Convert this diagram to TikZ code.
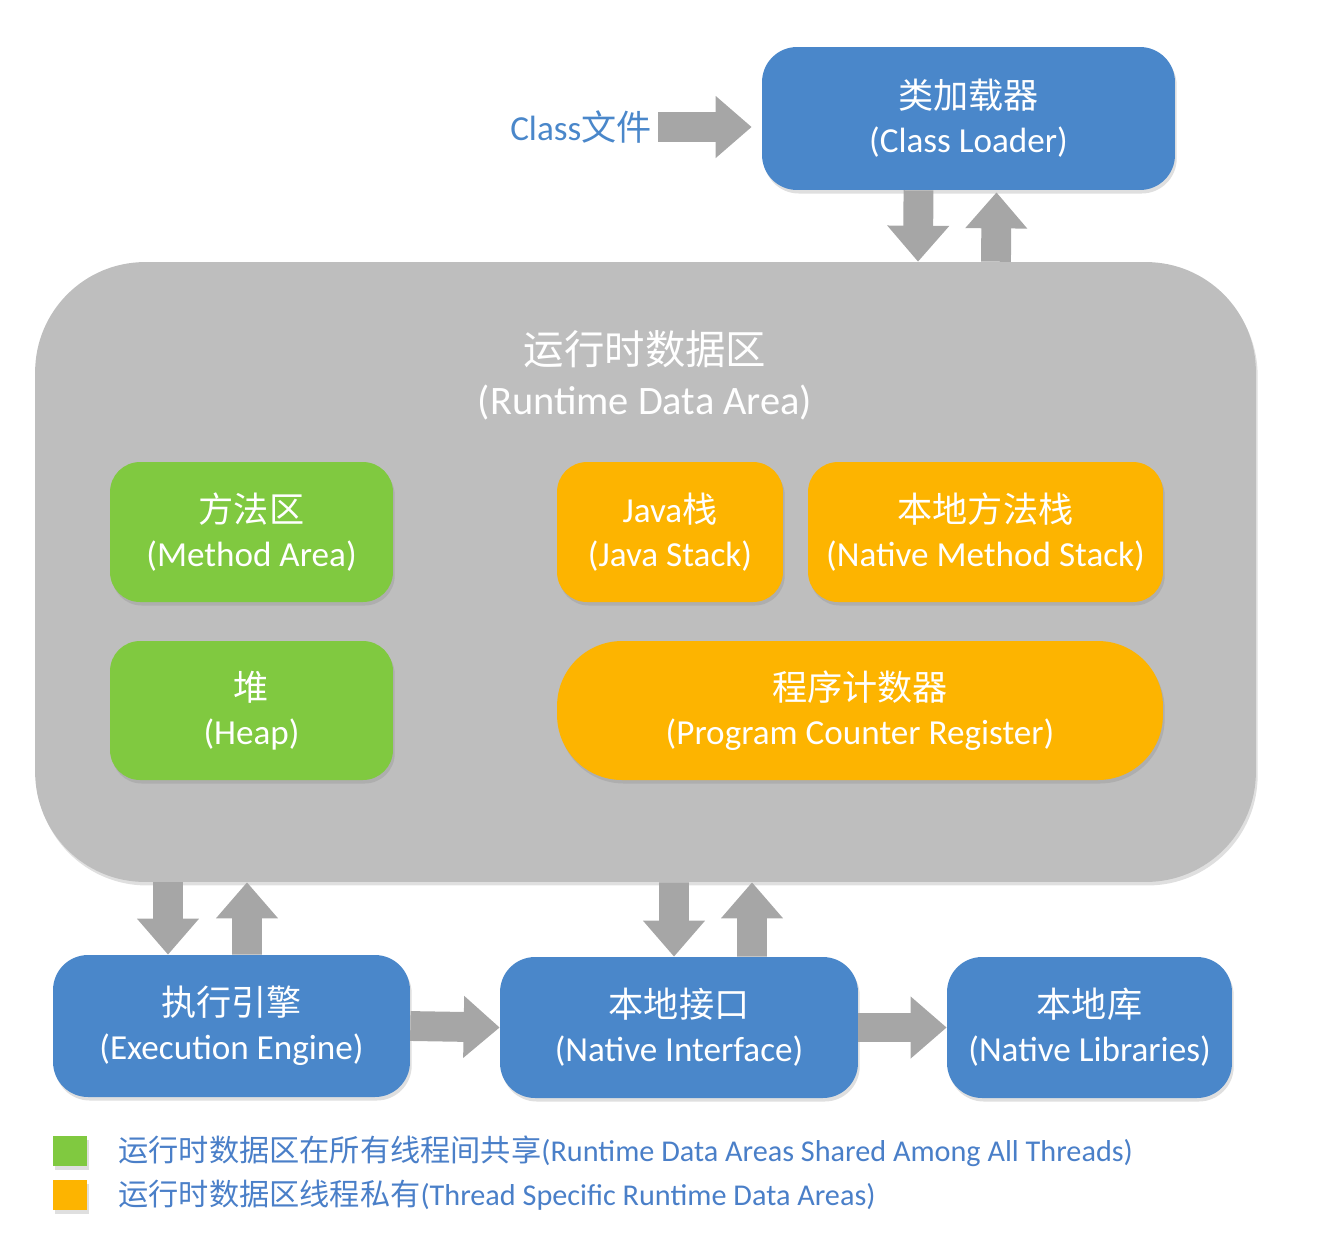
\documentclass[tikz,border=0pt]{standalone}
\usepackage{fontspec}
\setmainfont{Carlito}
\newfontfamily\cjk{Noto Sans CJK SC}
\usetikzlibrary{arrows.meta,shadows,calc}
\definecolor{boxblue}{HTML}{4A87CA}
\definecolor{boxgreen}{HTML}{80C940}
\definecolor{boxorange}{HTML}{FDB400}
\definecolor{areagray}{HTML}{BEBEBE}
\definecolor{arrowgray}{HTML}{A6A6A6}
\definecolor{legendblue}{HTML}{4A7FC8}
\begin{document}
\begin{tikzpicture}[x=0.02cm,y=-0.02cm,
  softshadow/.style={drop shadow={opacity=0.25,shadow xshift=1pt,shadow yshift=-2pt}},
  box/.style={rounded corners=0.7cm,text=white,align=center,inner sep=0pt,
    font=\fontsize{20}{25}\selectfont,softshadow},
  bluebox/.style={box,fill=boxblue},
  greenbox/.style={box,fill=boxgreen,rounded corners=0.6cm},
  orangebox/.style={box,fill=boxorange,rounded corners=0.6cm},
  garrow/.style={draw=arrowgray,line width=17pt,-{Triangle[width=34pt,length=20.5pt]}},
  legendsq/.style={minimum width=0.68cm,minimum height=0.6cm,inner sep=0pt,softshadow},
  legendtext/.style={anchor=west,text=legendblue,inner sep=0pt,font=\fontsize{17.2}{20}\selectfont}
]
\useasboundingbox (0,0) rectangle (1338,1242);

% runtime data area
\node[fill=areagray,rounded corners=2.2cm,minimum width=24.42cm,minimum height=12.4cm,softshadow] (rda) at (645.5,572) {};
\node[text=white,align=center,font=\fontsize{23}{28.5}\selectfont] (rdatitle) at (645,375) {{\cjk 运行时数据区}\\(Runtime Data Area)};

% class loader
\node[bluebox,minimum width=8.26cm,minimum height=2.86cm] (loader) at (968.5,118.5) {{\cjk 类加载器}\\(Class Loader)};
\node[text=boxblue,font=\fontsize{20}{24}\selectfont,inner sep=0pt,anchor=east] (classfile) at (652,127) {Class{\cjk 文件}};

% inner areas
\node[greenbox,minimum width=5.66cm,minimum height=2.8cm] (method) at (251.5,532) {{\cjk 方法区}\\(Method Area)};
\node[greenbox,minimum width=5.66cm,minimum height=2.78cm] (heap) at (251.5,710.5) {{\cjk 堆}\\(Heap)};
\node[orangebox,minimum width=4.52cm,minimum height=2.8cm] (jstack) at (670,532) {Java{\cjk 栈}\\(Java Stack)};
\node[orangebox,minimum width=7.1cm,minimum height=2.8cm] (nstack) at (985.5,532) {{\cjk 本地方法栈}\\(Native Method Stack)};
\node[orangebox,rounded corners=1.3cm,minimum width=12.12cm,minimum height=2.78cm] (pc) at (860,710.5) {{\cjk 程序计数器}\\(Program Counter Register)};

% bottom row
\node[bluebox,minimum width=7.14cm,minimum height=2.84cm] (exec) at (231.5,1026) {{\cjk 执行引擎}\\(Execution Engine)};
\node[bluebox,minimum width=7.16cm,minimum height=2.82cm] (ni) at (679,1027.5) {{\cjk 本地接口}\\(Native Interface)};
\node[bluebox,minimum width=5.7cm,minimum height=2.82cm] (nl) at (1089.5,1027.5) {{\cjk 本地库}\\(Native Libraries)};

% arrows
\draw[garrow,shorten >=0.2cm] (classfile.east -| 658,0) -- (loader.west |- classfile.east);
\draw[garrow] ($(loader.south)+(-50,0)$) -- ($(rda.north)+(272.5,0)$);
\draw[garrow] ($(rda.north)+(350.5,0)$) -- ($(loader.south)+(28,2)$);
\draw[garrow] ($(rda.south)+(-477.5,0)$) -- ($(exec.north)+(-63.5,0)$);
\draw[garrow] ($(exec.north)+(15.5,0)$) -- ($(rda.south)+(-398.5,0)$);
\draw[garrow] ($(rda.south)+(28.5,0)$) -- ($(ni.north)+(-5,0)$);
\draw[garrow] ($(ni.north)+(73,0)$) -- ($(rda.south)+(106.5,0)$);
\draw[garrow] (exec.east) -- (ni.west);
\draw[garrow] (ni.east) -- (nl.west);

% legend
\node[legendsq,fill=boxgreen] (lg1) at (70,1151) {};
\node[legendsq,fill=boxorange] (lg2) at (70,1195) {};
\node[legendtext] (lt1) at (118,1151) {{\cjk 运行时数据区在所有线程间共享}(Runtime Data Areas Shared Among All Threads)};
\node[legendtext] (lt2) at (118,1195) {{\cjk 运行时数据区线程私有}(Thread Specific Runtime Data Areas)};
\end{tikzpicture}
\end{document}
